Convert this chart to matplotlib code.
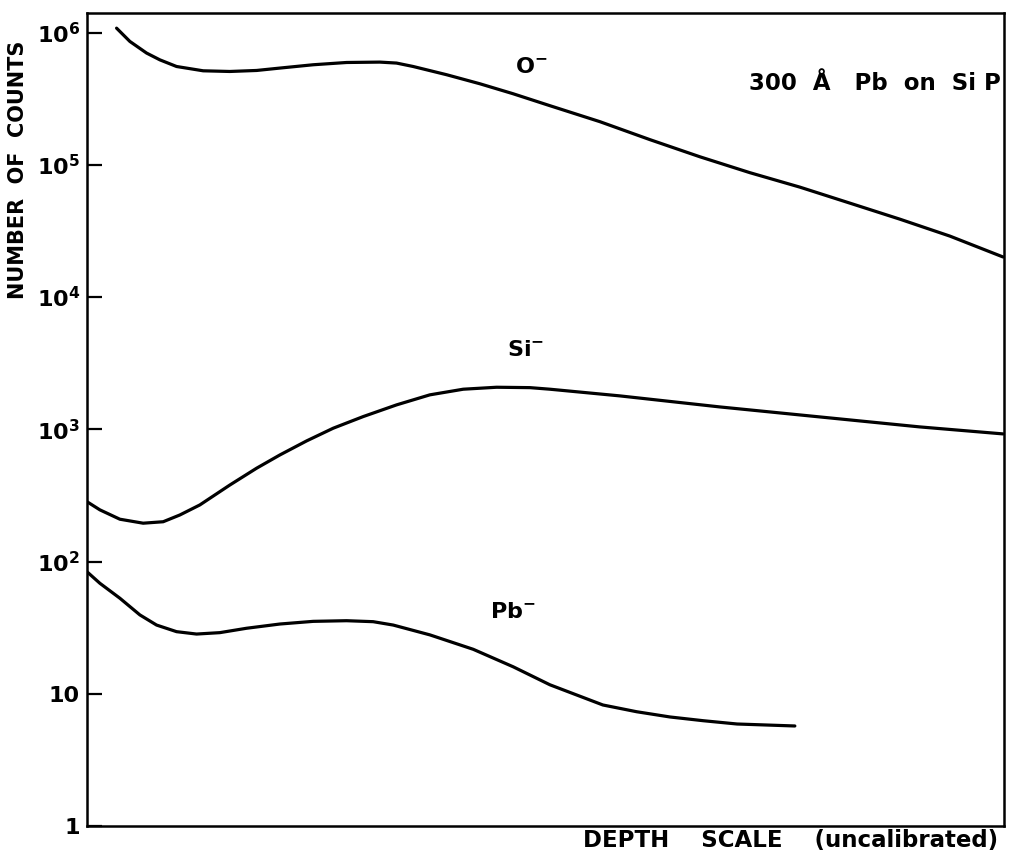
import matplotlib.pyplot as plt

plt.rcParams['font.weight'] = 'bold'
plt.rcParams['mathtext.default'] = 'bf'

# depth positions (arbitrary units, axis runs 0..100) and counts per ion
o_depth = [3.24, 4.69, 6.51, 7.96, 9.78, 12.68, 15.59, 18.51, 21.05, 24.68,
           28.32, 31.95, 33.77, 35.58, 39.23, 42.86, 46.46, 50.49, 55.94,
           61.40, 66.85, 72.30, 77.75, 83.21, 88.66, 94.11, 99.9]
o_counts = [1.08e6, 8.57e5, 7.0e5, 6.22e5, 5.54e5, 5.14e5, 5.08e5, 5.17e5,
            5.39e5, 5.71e5, 5.94e5, 5.98e5, 5.88e5, 5.54e5, 4.80e5, 4.10e5,
            3.45e5, 2.80e5, 2.12e5, 1.55e5, 1.15e5, 8.72e4, 6.78e4, 5.13e4,
            3.88e4, 2.89e4, 2.01e4]

si_depth = [0.0, 1.42, 3.60, 6.14, 8.32, 10.14, 12.32, 15.59, 18.51, 21.05,
            23.96, 26.86, 30.13, 33.77, 37.40, 41.04, 44.68, 48.31, 50.49,
            58.1, 69.0, 79.9, 90.8, 99.9]
si_counts = [284, 246, 209, 195, 200, 225, 268, 379, 508, 640, 817, 1019,
             1248, 1530, 1822, 2010, 2080, 2066, 2010, 1790, 1477, 1241,
             1043, 923]

pb_depth = [0.0, 1.42, 3.60, 5.78, 7.60, 9.78, 11.96, 14.50, 17.41, 21.05,
            24.68, 28.32, 31.22, 33.40, 37.40, 42.13, 46.49, 50.49, 56.27,
            59.94, 63.58, 67.2, 70.9, 77.2]
pb_counts = [83.9, 68.5, 52.8, 39.5, 33.1, 29.5, 28.3, 29.0, 31.3, 33.7,
             35.3, 35.7, 35.1, 33.1, 27.9, 21.7, 16.0, 11.7, 8.23, 7.32,
             6.68, 6.26, 5.91, 5.71]

tick_vals = [1, 10, 1e2, 1e3, 1e4, 1e5, 1e6]
tick_text = ['1', '10', r'$10^{2}$', r'$10^{3}$', r'$10^{4}$', r'$10^{5}$', r'$10^{6}$']

fig = plt.figure(figsize=(10.1, 8.56), dpi=100)
ax = fig.add_axes([0.086, 0.035, 0.908, 0.950])

for d, c in [(o_depth, o_counts), (si_depth, si_counts), (pb_depth, pb_counts)]:
    ax.plot(d, c, color='black', lw=2.3, solid_capstyle='round',
            solid_joinstyle='round')

ax.set_yscale('log')
ax.set_xlim(0, 100)
ax.set_ylim(1, 1.41e6)
ax.set_xticks([])
ax.set_yticks(tick_vals)
ax.set_yticklabels(tick_text)
ax.yaxis.set_minor_locator(plt.NullLocator())
ax.tick_params(axis='y', direction='in', length=11, width=1.6, pad=5,
               labelsize=16)
for sp in ax.spines.values():
    sp.set_linewidth(1.8)

# curve labels
ax.text(48.4, 5.5e5, r'O$^{-}$', fontsize=16, ha='center', va='center')
ax.text(47.8, 3990, r'Si$^{-}$', fontsize=16, ha='center', va='center')
ax.text(46.5, 41.6, r'Pb$^{-}$', fontsize=16, ha='center', va='center')
ax.text(99.7, 4.1e5, '300  Å   Pb  on  Si P', fontsize=16.5, ha='right',
        va='center')

fig.text(18 / 1010, 1 - 170 / 856, 'NUMBER  OF  COUNTS', rotation=90,
         fontsize=15, ha='center', va='center')
fig.text(998 / 1010, 1 - 840 / 856, 'DEPTH    SCALE    (uncalibrated)',
         fontsize=16.5, ha='right', va='center')

fig.savefig('out.png', dpi=100)
